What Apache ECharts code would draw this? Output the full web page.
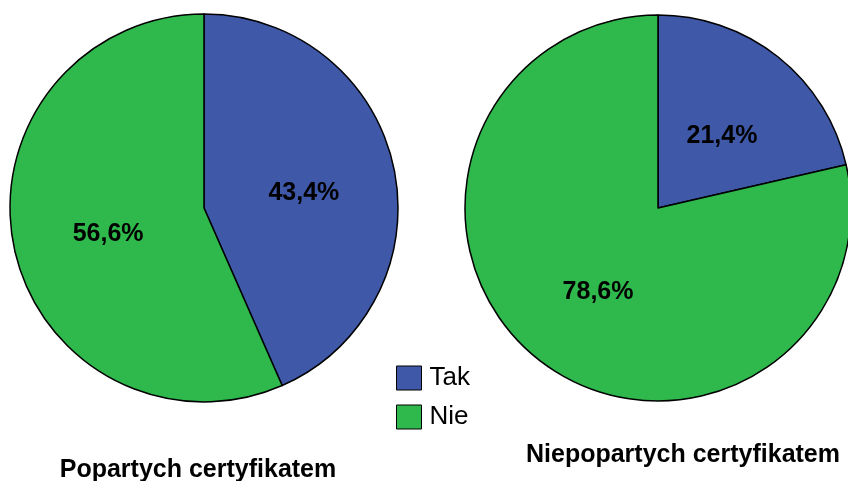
<!DOCTYPE html>
<html><head><meta charset="utf-8">
<script src="https://cdn.jsdelivr.net/npm/echarts@6/dist/echarts.min.js"></script>
<style>html,body{margin:0;padding:0;background:#fff}#c{width:848px;height:481px}</style>
</head><body><div id="c"></div>
<script>
const categories = ['Tak', 'Nie'];
const leftValues = [43.4, 56.6];
const rightValues = [21.4, 78.6];
const chartTitles = ['Popartych certyfikatem', 'Niepopartych certyfikatem'];
const colors = ['#3f58a8', '#2fb84b'];

const font = 'Liberation Sans, Arial, sans-serif';
function mk(vals, center, radius) {
  return {
    type: 'pie', center: center, radius: radius, startAngle: 90, clockwise: true,
    silent: true, animation: false,
    label: { show: true, position: 'inside', offset: [2, 6], formatter: p => p.value.toFixed(1).replace('.', ',') + '%',
      color: '#000', fontWeight: 'bold', fontSize: 25, fontFamily: font },
    labelLine: { show: false },
    itemStyle: { borderColor: '#000', borderWidth: 1.5 },
    data: categories.map((c, i) => ({ name: c, value: vals[i], itemStyle: { color: colors[i] } }))
  };
}
const chart = echarts.init(document.getElementById('c'));
chart.setOption({
  backgroundColor: '#fff',
  animation: false,
  title: [
    { text: chartTitles[0], left: 193, top: 453, textAlign: 'center',
      textStyle: { fontFamily: font, fontWeight: 'bold', fontSize: 25, color: '#000' } },
    { text: chartTitles[1], left: 678, top: 438, textAlign: 'center',
      textStyle: { fontFamily: font, fontWeight: 'bold', fontSize: 25, color: '#000' } }
  ],
  legend: {
    data: categories, orient: 'vertical', left: 391, top: 360,
    itemWidth: 25, itemHeight: 24, itemGap: 13, icon: 'rect',
    selectedMode: false,
    textStyle: { fontFamily: font, fontSize: 26, color: '#000', padding: [0, 0, 0, 3] },
    itemStyle: { borderColor: '#000', borderWidth: 1 }
  },
  series: [
    mk(leftValues, [204, 208], 194),
    mk(rightValues, [658, 208], 193)
  ]
});
</script></body></html>
